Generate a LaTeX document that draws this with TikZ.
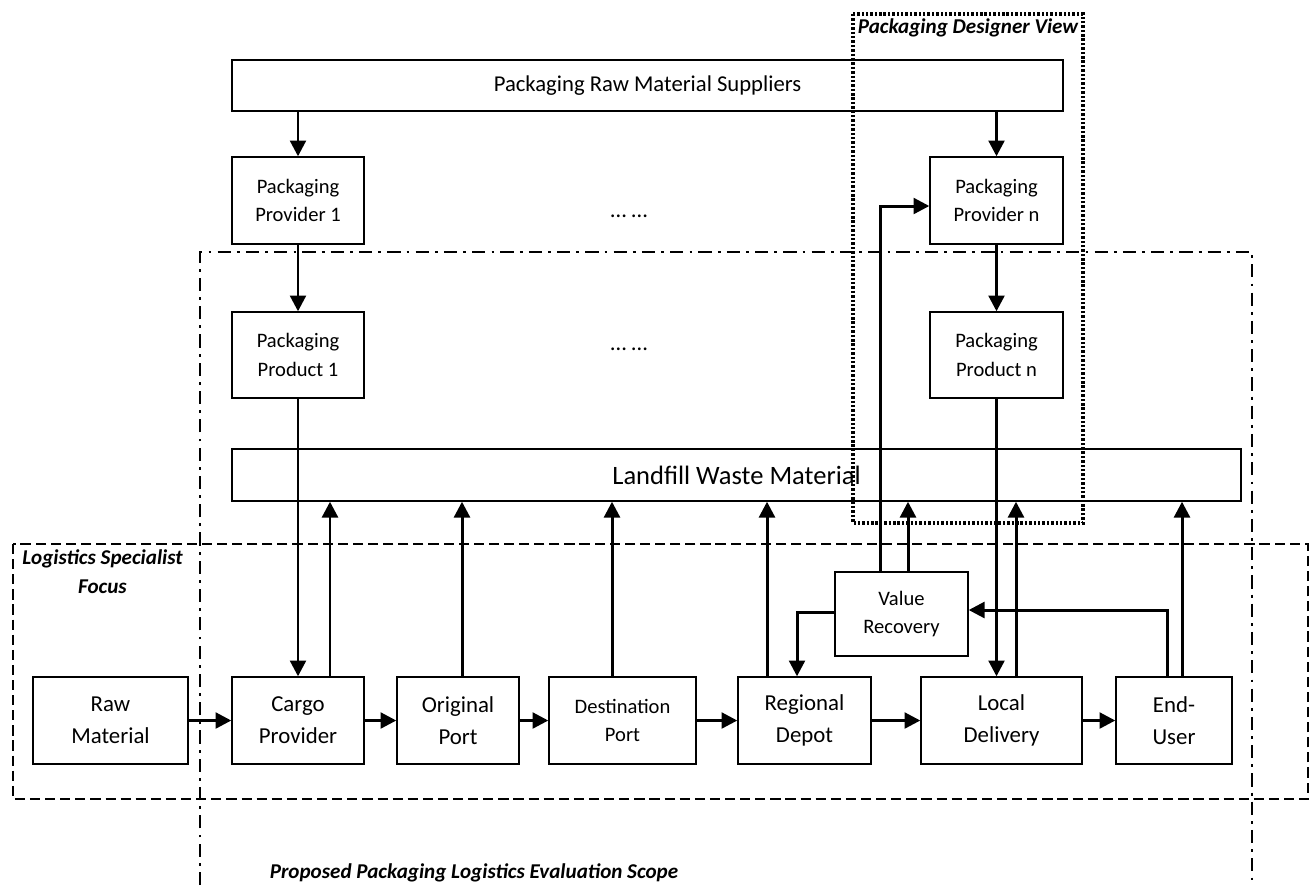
\documentclass[tikz,border=0pt]{standalone}
\usepackage{fontspec}
\setmainfont{Carlito}
\usetikzlibrary{arrows.meta}

\newcommand{\bigtxt}{\fontsize{13}{18.2}\selectfont}
\newcommand{\smalltxt}{\fontsize{11.7}{16.4}\selectfont}

\tikzset{
  box/.style={draw, line width=0.8pt, align=center, inner sep=0pt},
  flow/.style={line width=1.7pt, -{Triangle[length=9pt,width=9pt]}},
  scopelabel/.style={font=\fontsize{12}{16.5}\selectfont\bfseries\itshape, align=center, inner sep=0pt},
  scopeframe/.style={line width=1.6pt, dash pattern=on 7.5pt off 3.5pt on 1.6pt off 3.5pt},
  focusframe/.style={line width=1.6pt, dash pattern=on 5.8pt off 2.8pt},
  designframe/.style={line width=2pt, dash pattern=on 1.4pt off 1.1pt},
}

\begin{document}
\begin{tikzpicture}[x=0.02cm,y=-0.02cm]
\useasboundingbox (0,0) rectangle (1314,887);

% packaging side
\node[box, minimum width=16.62cm, minimum height=1.02cm, font=\fontsize{12.9}{15}\selectfont] (sup) at (647.5,85.5) {Packaging Raw Material Suppliers};
\node[box, minimum width=2.64cm, minimum height=1.74cm, font=\smalltxt] (prov1) at (298,200.5) {Packaging\\Provider 1};
\node[box, minimum width=2.66cm, minimum height=1.74cm, font=\smalltxt] (provn) at (996.5,200.5) {Packaging\\Provider n};
\node[box, minimum width=2.64cm, minimum height=1.72cm, font=\smalltxt] (prod1) at (298,355) {Packaging\\Product 1};
\node[box, minimum width=2.66cm, minimum height=1.72cm, font=\smalltxt] (prodn) at (996.5,355) {Packaging\\Product n};
\node[font=\fontsize{13}{14}\selectfont] (dots1) at (629,216) {… …};
\node[font=\fontsize{13}{14}\selectfont] (dots2) at (629,349) {… …};
\node[box, minimum width=20.18cm, minimum height=1.04cm, font=\fontsize{15.1}{18}\selectfont] (landfill) at (736.5,475) {Landfill Waste Material};
\node[box, minimum width=2.66cm, minimum height=1.68cm, font=\smalltxt] (vr) at (901.5,614) {Value\\Recovery};

% logistics chain
\node[box, minimum width=3.1cm, minimum height=1.74cm, font=\bigtxt] (raw) at (110.5,720.5) {Raw\\Material};
\node[box, minimum width=2.64cm, minimum height=1.74cm, font=\bigtxt] (cargo) at (298,720.5) {Cargo\\Provider};
\node[box, minimum width=2.44cm, minimum height=1.74cm, font=\bigtxt] (orig) at (458,720.5) {Original\\Port};
\node[box, minimum width=2.94cm, minimum height=1.74cm, font=\smalltxt] (dest) at (622.5,720.5) {Destination\\Port};
\node[box, minimum width=2.66cm, minimum height=1.74cm, font=\bigtxt] (depot) at (804.5,720.5) {Regional\\Depot};
\node[box, minimum width=3.22cm, minimum height=1.74cm, font=\bigtxt] (local) at (1001.5,720.5) {Local\\Delivery};
\node[box, minimum width=2.32cm, minimum height=1.74cm, font=\bigtxt] (end) at (1174,720.5) {End-\\User};

% flows
\draw[flow] (prov1.north |- sup.south) -- (prov1.north);
\draw[flow] (provn.north |- sup.south) -- (provn.north);
\draw[flow] (prov1) -- (prod1);
\draw[flow] (provn) -- (prodn);
\draw[flow] (prod1.south) -- (prod1.south |- cargo.north);
\draw[flow] (prodn.south) -- (prodn.south |- local.north);
\draw[flow] (raw) -- (cargo);
\draw[flow] (cargo) -- (orig);
\draw[flow] (orig) -- (dest);
\draw[flow] (dest) -- (depot);
\draw[flow] (depot) -- (local);
\draw[flow] (local) -- (end);
\draw[flow] ([xshift=0.64cm]cargo.north) -- ([xshift=0.64cm]cargo.north |- landfill.south);
\draw[flow] ([xshift=0.08cm]orig.north) -- ([xshift=0.08cm]orig.north |- landfill.south);
\draw[flow] ([xshift=-0.21cm]dest.north) -- ([xshift=-0.21cm]dest.north |- landfill.south);
\draw[flow] ([xshift=-0.75cm]depot.north) -- ([xshift=-0.75cm]depot.north |- landfill.south);
\draw[flow] ([xshift=0.13cm]vr.north) -- ([xshift=0.13cm]vr.north |- landfill.south);
\draw[flow] ([xshift=0.29cm]local.north) -- ([xshift=0.29cm]local.north |- landfill.south);
\draw[flow] ([xshift=0.16cm]end.north) -- ([xshift=0.16cm]end.north |- landfill.south);
\draw[flow] ([xshift=-0.43cm]vr.north) |- ([yshift=-0.11cm]provn.west);
\draw[flow] ([xshift=-0.14cm]end.north) |- ([yshift=0.08cm]vr.east);
\draw[flow] ([yshift=0.04cm]vr.west) -| ([xshift=-0.15cm]depot.north);

% scopes
\draw[scopeframe] (200,885) -- (200,252) -- (1252,252) -- (1252,885);
\draw[focusframe] (13,544) rectangle (1308,799);
\draw[designframe] (853,14) rectangle (1083,523);
\node[scopelabel] (designlbl) at (968,28) {Packaging Designer View};
\node[scopelabel] (focuslbl) at (102.5,572) {Logistics Specialist\\Focus};
\node[scopelabel] (scopelbl) at (474,873) {Proposed Packaging Logistics Evaluation Scope};
\end{tikzpicture}
\end{document}
